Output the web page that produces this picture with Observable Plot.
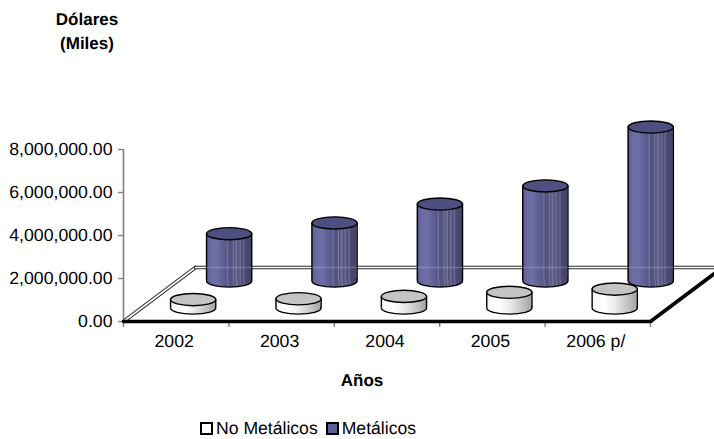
<!DOCTYPE html>
<html><head><meta charset="utf-8">
<script src="https://cdn.jsdelivr.net/npm/d3@7"></script>
<script src="https://cdn.jsdelivr.net/npm/@observablehq/plot@0.6"></script>
<style>
html,body{margin:0;padding:0;background:#fff;overflow:hidden}
body{width:714px;height:439px;font-family:"Liberation Sans",Arial,sans-serif;color:#000;text-rendering:geometricPrecision}
#title{position:absolute;left:0;top:8px;width:174px;text-align:center;font-weight:bold;font-size:17px;line-height:24px;white-space:pre-line}
#xlabel{position:absolute;left:262px;top:371px;width:200px;text-align:center;font-weight:bold;font-size:17px;line-height:20px}
#chart{position:absolute;left:0;top:60px}
#legend{position:absolute;left:200px;top:418px;font-size:17.6px;line-height:20px;display:flex;align-items:center;white-space:nowrap}
#legend i{display:inline-block;box-sizing:border-box;width:13px;height:13px;border:2px solid #000;margin-right:3px}
#legend span{display:flex;align-items:center;margin-right:8px}
svg{display:block}
svg text{text-rendering:geometricPrecision}
</style></head><body>
<div id="title">Dólares
(Miles)</div>
<div id="chart"></div>
<div id="xlabel">Años</div>
<div id="legend"></div>
<script>
const years = ["2002","2003","2004","2005","2006 p/"];
const metalicos = [2200000,2700000,3580000,4420000,7160000];
const noMetalicos = [390000,430000,540000,730000,880000];
const yTicks = [0,2000000,4000000,6000000,8000000];
const seriesNames = ["No Metálicos","Metálicos"];

const catPx = 105.4, valuePerPx = 8000000/172;
const depthX = 72/catPx, depthY = 54*valuePerPx;
const halfW = 22.6/catPx;
const ellipse = {draw(c,size){
  const rx=Math.sqrt(size/Math.PI), ry=rx*0.27, k=0.5523;
  c.moveTo(-rx,0);
  c.bezierCurveTo(-rx,-k*ry,-k*rx,-ry,0,-ry);
  c.bezierCurveTo(k*rx,-ry,rx,-k*ry,rx,0);
  c.bezierCurveTo(rx,k*ry,k*rx,ry,0,ry);
  c.bezierCurveTo(-k*rx,ry,-rx,k*ry,-rx,0);
  c.closePath();
}};
const rows = (vals,d)=>vals.map((v,i)=>({year:years[i],c:i+0.49+d*depthX,y0:d*depthY,y1:d*depthY+v}));
const back = rows(metalicos,0.75), front = rows(noMetalicos,0.25);

function cylinder(data,side,top){
  const sw=1.4;
  return [
    Plot.dot(data,{x:"c",y:"y0",r:22.6,symbol:ellipse,fill:side,stroke:"#000",strokeWidth:sw}),
    Plot.rect(data,{x1:d=>d.c-halfW,x2:d=>d.c+halfW,y1:"y0",y2:"y1",fill:side}),
    Plot.ruleX(data,{x:d=>d.c-halfW,y1:"y0",y2:"y1",stroke:"#000",strokeWidth:sw}),
    Plot.ruleX(data,{x:d=>d.c+halfW,y1:"y0",y2:"y1",stroke:"#000",strokeWidth:sw}),
    Plot.dot(data,{x:"c",y:"y1",r:22.6,symbol:ellipse,fill:top,stroke:"#000",strokeWidth:sw})
  ];
}
const grad=(id,stops)=>()=>{
  const ns="http://www.w3.org/2000/svg";
  const g=document.createElementNS(ns,"linearGradient"); g.setAttribute("id",id);
  stops.forEach(([o,c])=>{const s=document.createElementNS(ns,"stop");s.setAttribute("offset",o);s.setAttribute("stop-color",c);g.appendChild(s);});
  const defs=document.createElementNS(ns,"defs"); defs.appendChild(g); return defs;
};
const purple=[[0,"#5c5c92"],[.12,"#6c6ca4"],[.24,"#6e6ea4"],[.34,"#62629a"],[.44,"#585888"],[.48,"#7272a0"],[.5,"#545484"],[.58,"#54547e"],[.6,"#7c7ca8"],[.62,"#52527c"],[.68,"#78789f"],[.7,"#50507a"],[.76,"#6e6e98"],[.78,"#4c4c76"],[.84,"#66668e"],[.86,"#4a4a72"],[1,"#44446a"]];
const whitegrey=[[0,"#f6f6f6"],[.28,"#ffffff"],[.5,"#ececec"],[.7,"#d0d0d0"],[1,"#a4a4a4"]];

const floorBack=[{x:depthX,y:depthY},{x:5+depthX,y:depthY}];
const floorLeft=[{x:0,y:0},{x:depthX,y:depthY}];
const floorFront=[{x:0,y:0},{x:5,y:0}];
const floorRight=[{x:5,y:0},{x:5+depthX,y:depthY}];
const dbl=(d)=>[
  Plot.line(d,{x:"x",y:"y",stroke:"#222",strokeWidth:3.6}),
  Plot.line(d,{x:"x",y:"y",stroke:"#fff",strokeWidth:1.7})
];

const chart = Plot.plot({
  width:714,height:340,marginLeft:123,marginRight:0,marginTop:0,marginBottom:79,
  style:{fontFamily:"'Liberation Sans',Arial,sans-serif",fontSize:"17.7px",color:"#000",background:"#fff"},
  x:{type:"linear",domain:[0,591/catPx],range:[123,714]},
  y:{type:"linear",domain:[0,261*valuePerPx],range:[261,0]},
  marks:[
    grad("gP",purple),grad("gW",whitegrey),
    ...dbl(floorLeft),...dbl(floorBack),
    Plot.line(floorRight,{x:"x",y:"y",stroke:"#000",strokeWidth:3.6}),
    Plot.ruleX([0],{y1:0,y2:8000000,stroke:"#808080",strokeWidth:1.6}),
    Plot.axisY({ticks:yTicks,tickSize:5,tickPadding:6,stroke:"#808080",strokeWidth:1.4,tickFormat:d3.format(",.2f"),label:null,fill:"#000"}),
    Plot.axisX({ticks:d3.range(0,6),tickSize:6,tickFormat:()=>"",stroke:"#808080",strokeWidth:1.4,label:null}),
    Plot.axisX({ticks:years.map((_,i)=>i+.5),tickSize:0,tickPadding:13,dx:-2,tickFormat:d=>years[d-.5],fill:"#000",label:null}),
    Plot.line(floorFront,{x:"x",y:"y",stroke:"#000",strokeWidth:3.6}),
    ...cylinder(back,"url(#gP)","#4e4e80"),
    Plot.line(floorBack,{x:"x",y:"y",stroke:"#fff",strokeWidth:1.6,strokeOpacity:0.18}),
    ...cylinder(front,"url(#gW)","#c4c4c4")
  ]
});
document.getElementById("chart").appendChild(chart);
const swatches=["#fff","#5f5f98"];
document.getElementById("legend").innerHTML=seriesNames.map((s,i)=>`<span><i style="background:${swatches[i]}"></i>${s}</span>`).join("");
</script>
</body></html>
